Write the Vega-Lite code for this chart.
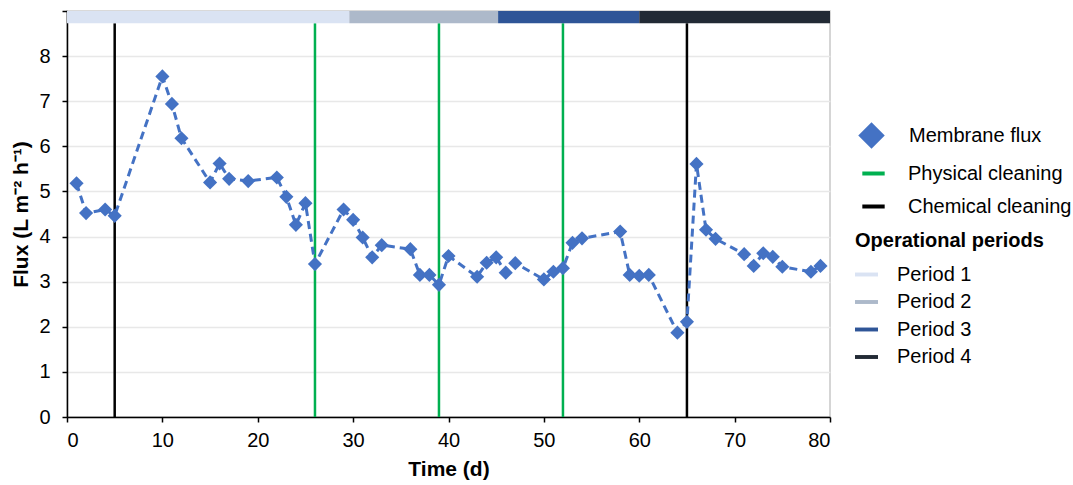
{
  "$schema": "https://vega.github.io/schema/vega-lite/v6.json",
  "width": 763,
  "height": 406,
  "autosize": {"type": "none"},
  "padding": {"left": 67, "top": 11, "right": 243, "bottom": 68},
  "background": "white",
  "config": {
    "font": "Liberation Sans",
    "view": {"stroke": "#c8c8c8", "strokeWidth": 1.5},
    "axis": {
      "domainColor": "#000000",
      "domainWidth": 1.5,
      "tickColor": "#000000",
      "tickWidth": 1.5,
      "tickSize": 5,
      "labelFont": "Liberation Sans",
      "labelFontSize": 20,
      "labelColor": "#000000",
      "titleFont": "Liberation Sans",
      "titleFontSize": 21,
      "titleFontWeight": "bold",
      "titleColor": "#000000"
    },
    "legend": {
      "padding": 0,
      "labelFont": "Liberation Sans",
      "labelFontSize": 20,
      "labelColor": "#000000",
      "labelLimit": 0,
      "titleLimit": 0,
      "titleFont": "Liberation Sans",
      "titleFontSize": 20,
      "titleFontWeight": "bold",
      "titleColor": "#000000"
    }
  },
  "datasets": {
    "flux": [
      {"day": 1, "flux": 5.18}, {"day": 2, "flux": 4.52}, {"day": 4, "flux": 4.6}, {"day": 5, "flux": 4.46},
      {"day": 10, "flux": 7.55}, {"day": 11, "flux": 6.94}, {"day": 12, "flux": 6.18}, {"day": 15, "flux": 5.2},
      {"day": 16, "flux": 5.62}, {"day": 17, "flux": 5.28}, {"day": 19, "flux": 5.23}, {"day": 22, "flux": 5.31},
      {"day": 23, "flux": 4.88}, {"day": 24, "flux": 4.26}, {"day": 25, "flux": 4.74}, {"day": 26, "flux": 3.39},
      {"day": 29, "flux": 4.6}, {"day": 30, "flux": 4.37}, {"day": 31, "flux": 3.98}, {"day": 32, "flux": 3.54},
      {"day": 33, "flux": 3.81}, {"day": 36, "flux": 3.72}, {"day": 37, "flux": 3.15}, {"day": 38, "flux": 3.15},
      {"day": 39, "flux": 2.93}, {"day": 40, "flux": 3.57}, {"day": 43, "flux": 3.11}, {"day": 44, "flux": 3.42},
      {"day": 45, "flux": 3.54}, {"day": 46, "flux": 3.2}, {"day": 47, "flux": 3.41}, {"day": 50, "flux": 3.05},
      {"day": 51, "flux": 3.22}, {"day": 52, "flux": 3.3}, {"day": 53, "flux": 3.86}, {"day": 54, "flux": 3.96},
      {"day": 58, "flux": 4.11}, {"day": 59, "flux": 3.15}, {"day": 60, "flux": 3.13}, {"day": 61, "flux": 3.15},
      {"day": 64, "flux": 1.87}, {"day": 65, "flux": 2.11}, {"day": 66, "flux": 5.61}, {"day": 67, "flux": 4.15},
      {"day": 68, "flux": 3.95}, {"day": 71, "flux": 3.61}, {"day": 72, "flux": 3.35}, {"day": 73, "flux": 3.63},
      {"day": 74, "flux": 3.55}, {"day": 75, "flux": 3.33}, {"day": 78, "flux": 3.22}, {"day": 79, "flux": 3.35}
    ],
    "cleaning": [
      {"day": 5, "type": "Chemical cleaning"},
      {"day": 26, "type": "Physical cleaning"},
      {"day": 39, "type": "Physical cleaning"},
      {"day": 52, "type": "Physical cleaning"},
      {"day": 65, "type": "Chemical cleaning"}
    ],
    "periods": [
      {"start": 0, "end": 29.6, "period": "Period 1"},
      {"start": 29.6, "end": 45.2, "period": "Period 2"},
      {"start": 45.2, "end": 60, "period": "Period 3"},
      {"start": 60, "end": 80, "period": "Period 4"}
    ]
  },
  "layer": [
    {
      "data": {"name": "cleaning"},
      "mark": {"type": "rule", "strokeWidth": 2.5},
      "encoding": {
        "x": {
          "field": "day", "type": "quantitative",
          "scale": {"domain": [0, 80], "nice": false},
          "axis": {"values": [0, 10, 20, 30, 40, 50, 60, 70, 80], "grid": false, "title": "Time (d)", "labelPadding": 8, "titlePadding": 8}
        },
        "y": {
          "datum": 0, "type": "quantitative",
          "scale": {"domain": [0, 9], "nice": false},
          "axis": {
            "values": [0, 1, 2, 3, 4, 5, 6, 7, 8, 9],
            "labelExpr": "datum.value == 9 ? '' : datum.label",
            "grid": true, "gridColor": "#e8e8e8", "gridWidth": 1.5,
            "title": "Flux (L m⁻² h⁻¹)", "labelPadding": 12, "titlePadding": 7
          }
        },
        "y2": {"datum": 8.73},
        "stroke": {
          "field": "type", "type": "nominal",
          "scale": {"domain": ["Physical cleaning", "Chemical cleaning"], "range": ["#00b050", "#000000"]},
          "legend": {
            "title": null, "orient": "none", "legendX": 793, "legendY": 149,
            "symbolType": "stroke", "symbolSize": 500, "symbolStrokeWidth": 4,
            "labelOffset": 21, "rowPadding": 9
          }
        }
      }
    },
    {
      "data": {"name": "periods"},
      "mark": {"type": "rect"},
      "encoding": {
        "x": {"field": "start", "type": "quantitative"},
        "x2": {"field": "end"},
        "y": {"datum": 8.73, "type": "quantitative"},
        "y2": {"datum": 9},
        "color": {
          "field": "period", "type": "nominal",
          "scale": {"domain": ["Period 1", "Period 2", "Period 3", "Period 4"], "range": ["#dae3f3", "#adb9ca", "#2f5597", "#222a35"]},
          "legend": {
            "title": "Operational  periods", "orient": "none", "legendX": 788, "legendY": 220,
            "symbolType": "M-1,-0.17H1V0.17H-1Z", "symbolSize": 529, "symbolStrokeWidth": 0,
            "labelOffset": 19, "rowPadding": 5.5, "titlePadding": 12
          }
        }
      }
    },
    {
      "data": {"name": "flux"},
      "mark": {"type": "line", "color": "#4472c4", "strokeWidth": 3, "strokeDash": [8, 5]},
      "encoding": {
        "x": {"field": "day", "type": "quantitative"},
        "y": {"field": "flux", "type": "quantitative"}
      }
    },
    {
      "data": {"name": "flux"},
      "mark": {"type": "point", "filled": true, "opacity": 1, "color": "#4472c4", "size": 200},
      "encoding": {
        "x": {"field": "day", "type": "quantitative"},
        "y": {"field": "flux", "type": "quantitative"},
        "shape": {
          "datum": "Membrane flux",
          "scale": {"range": ["diamond"]},
          "legend": {
            "title": null, "orient": "none", "legendX": 791, "legendY": 111,
            "symbolSize": 700, "symbolFillColor": "#4472c4", "symbolStrokeWidth": 0, "labelOffset": 24
          }
        }
      }
    }
  ]
}
